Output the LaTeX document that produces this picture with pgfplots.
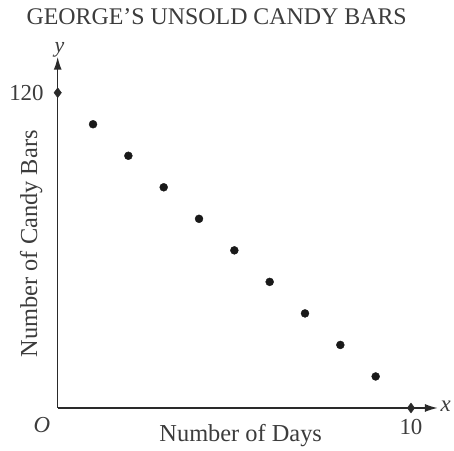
\documentclass[border=0pt]{standalone}
\usepackage{pgfplots}
\pgfplotsset{compat=1.18}
\usepackage{fontspec}
\setmainfont{Liberation Serif}
\usetikzlibrary{arrows.meta}
\definecolor{axc}{HTML}{2A2A2A}
\definecolor{txc}{HTML}{3C3C3C}
\begin{document}
\begin{tikzpicture}
\begin{axis}[
  at={(0,0)}, anchor=origin,
  scale only axis, width=382pt, height=353pt,
  xmin=0, xmax=10.76, ymin=0, ymax=133.7,
  axis lines=left,
  axis line style={axc, line width=1.5pt, -{Latex[length=13pt,width=8pt]}},
  xtick=\empty, ytick=\empty,
  clip=false,
]
\addplot[only marks, mark=*, mark size=4pt, color=black!90] coordinates {
  (1,108) (2,96) (3,84) (4,72) (5,60) (6,48) (7,36) (8,24) (9,12)
};
\addplot[only marks, mark=diamond*, mark size=5pt, color=axc] coordinates {
  (10,0) (0,120)
};
\node[txc, font=\fontsize{23}{26}\selectfont, anchor=east] at (axis cs:-0.3,120) {120};
\node[txc, font=\fontsize{23}{26}\selectfont, anchor=north] at (axis cs:10,-3.0) {10};
\node[txc, font=\fontsize{23}{26}\selectfont\itshape] at (axis cs:-0.45,-6.5) {O};
\node[txc, font=\fontsize{23}{26}\selectfont\itshape] at (axis cs:10.98,0.6) {x};
\node[txc, font=\fontsize{22}{24}\selectfont\itshape, inner sep=0pt, anchor=base] at (axis cs:0.05,135.2) {y};
\node[txc, font=\fontsize{24.5}{28}\selectfont, anchor=base] at (axis cs:5.18,-12.8) {Number of Days};
\node[txc, font=\fontsize{24.5}{28}\selectfont, rotate=90] at (axis cs:-0.75,62.5) {Number of Candy Bars};
\node[txc, font=\fontsize{24}{28}\selectfont, anchor=base, inner sep=0pt] at (axis cs:4.5,145.8) {GEORGE’S UNSOLD CANDY BARS};
\end{axis}
\path[use as bounding box] (-58pt,-36pt) rectangle (396pt,410pt);
\end{tikzpicture}
\end{document}
